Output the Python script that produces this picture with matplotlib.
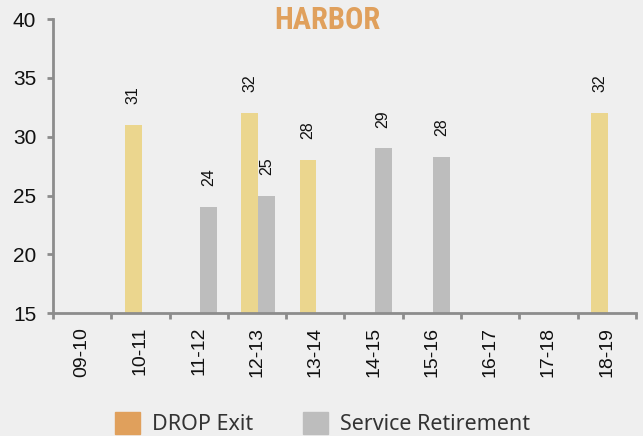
import matplotlib
matplotlib.use('Agg')
import matplotlib.pyplot as plt
from matplotlib.patches import Patch
from matplotlib import font_manager
import numpy as np

# data
years = ['09-10', '10-11', '11-12', '12-13', '13-14', '14-15', '15-16', '16-17', '17-18', '18-19']
drop_exit = [None, 31, None, 32, 28, None, None, None, None, 32]
service_ret = [None, None, 24, 25, None, 29, 28.3, None, None, None]

bg = '#efefef'
yellow = '#ebd68e'
gray = '#bdbdbd'
legend_orange = '#e0a05c'
spine_c = '#8c8c8c'

names = {f.name for f in font_manager.fontManager.ttflist}
title_fam = ['DejaVu Sans']
for cand in ['Liberation Sans Narrow', 'DejaVu Sans Condensed', 'Roboto Condensed']:
    if cand in names:
        title_fam = [cand]
        break

fig = plt.figure(figsize=(6.43, 4.36), dpi=100, facecolor=bg)
ax = fig.add_axes([0.0824, 0.282, 0.9066, 0.674])
ax.set_facecolor(bg)

x = np.arange(len(years))
w = 0.29

def draw(vals, offset, color):
    for xi, v in zip(x, vals):
        if v is None:
            continue
        ax.bar(xi + offset, v - 15, bottom=15, width=w, color=color, zorder=2)
        ax.annotate(str(int(round(v))), (xi + offset, v), xytext=(0, 15),
                    textcoords='offset points', rotation=90, ha='center', va='bottom',
                    fontsize=11.5, family='Liberation Sans', color='#111111')

draw(drop_exit, -w / 2 + 0.02, yellow)
draw(service_ret, w / 2 + 0.02, gray)

ax.set_xlim(-0.5, len(years) - 0.5)
ax.set_ylim(15, 40)
ax.set_yticks([15, 20, 25, 30, 35, 40])
ax.set_xticks(x)
ax.set_xticklabels(years, rotation=90, fontsize=14, family='Liberation Sans', color='#111111')
ax.set_xticks(np.arange(-0.5, len(years)), minor=True)
ax.tick_params(axis='x', which='major', length=0, pad=10)
ax.tick_params(axis='x', which='minor', length=4, width=2, color=spine_c)
ax.tick_params(axis='y', length=4, width=2, color=spine_c, pad=8, labelsize=15)
for lab in ax.get_yticklabels():
    lab.set_family('Liberation Sans')
    lab.set_color('#111111')

for s in ['top', 'right']:
    ax.spines[s].set_visible(False)
for s in ['left', 'bottom']:
    ax.spines[s].set_color(spine_c)
    ax.spines[s].set_linewidth(2)

fig.text(0.509, 0.953, 'HARBOR', ha='center', va='center', fontsize=22,
         fontweight='bold', fontstretch='condensed', family=title_fam, color=legend_orange)

handles = [Patch(color=legend_orange, label='DROP Exit'),
           Patch(color=gray, label='Service Retirement')]
fig.legend(handles=handles, loc='center left', bbox_to_anchor=(0.179, 0.028), ncol=2,
           frameon=False, prop={'family': 'Noto Sans', 'size': 15.5},
           handlelength=1.15, handleheight=1.15, handletextpad=0.55, columnspacing=2.35,
           borderaxespad=0, borderpad=0, labelcolor='#333333')

fig.savefig('out.png', dpi=100, facecolor=bg)
